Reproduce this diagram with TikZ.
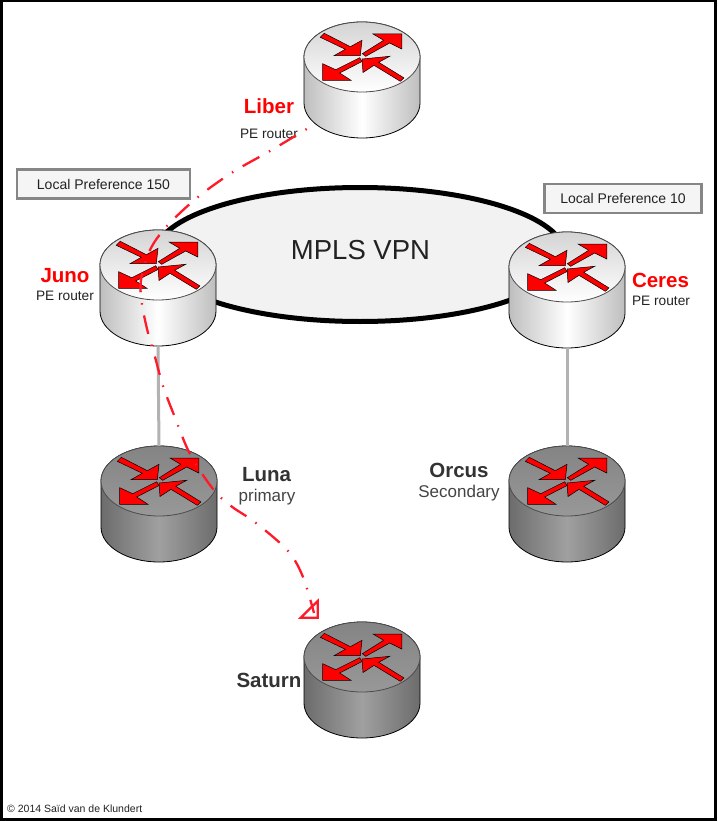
\documentclass[tikz,border=0pt]{standalone}
\usepackage{fontspec}
\setmainfont{Liberation Sans}
\definecolor{dashred}{HTML}{FF1A2A}
\definecolor{lblack}{HTML}{222222}
\definecolor{dgray}{HTML}{333333}
\definecolor{mgray}{HTML}{444444}
\definecolor{dsideedge}{HTML}{6C6C6C}
\definecolor{dsidemid}{HTML}{A0A0A0}
\definecolor{dtoptop}{HTML}{848484}
\definecolor{dtopbot}{HTML}{989898}
\definecolor{lsideedge}{HTML}{BEBEBE}
\definecolor{ltoptop}{HTML}{D4D4D4}
\tikzset{
  x=1pt,y=-1pt,
  routerbox/.style={rectangle,inner sep=0pt,minimum width=116pt,minimum height=116pt},
  prefbox/.style={rectangle,draw=gray!95,line width=2.5pt,fill=gray!8,inner sep=0pt,text=lblack,font=\fontsize{14}{16}\selectfont},
  namered/.style={text=red,inner sep=0pt,font=\bfseries\fontsize{20.5}{24}\selectfont},
  namedark/.style={text=dgray,inner sep=0pt,font=\bfseries\fontsize{20.5}{24}\selectfont},
  subblack/.style={text=lblack,inner sep=0pt,font=\fontsize{13.7}{16}\selectfont},
  subgray/.style={text=mgray,inner sep=0pt,font=\fontsize{17}{20}\selectfont},
  link/.style={draw=gray!60,line width=3pt},
  routerarrow/.style={fill=red,draw=black,line width=0.5pt,line join=miter},
  route/.style={draw=dashred,line width=2.3pt,dash pattern=on 1.5pt off 11pt on 19pt off 11pt},
  routetip/.style={draw=dashred,line width=2.3pt,line join=miter},
  lightside/.style={left color=lsideedge,right color=lsideedge,middle color=white},
  lighttop/.style={top color=ltoptop,bottom color=white},
  darkside/.style={left color=dsideedge,right color=dsideedge,middle color=dsidemid},
  darktop/.style={top color=dtoptop,bottom color=dtopbot},
}
\newcommand{\netrouter}[5]{% name, cx, cy, side, top
  \node[routerbox] (#1) at (#2,#3+23) {};
  \begin{scope}[shift={(#2,#3)}]
    \shade[#4,draw=black,line width=0.8pt] (-58,0) -- (-58,46) arc[start angle=180,end angle=0,x radius=58,y radius=35] -- (58,0) arc[start angle=0,end angle=-180,x radius=58,y radius=35] -- cycle;
    \shade[#5,draw=black!70,line width=0.8pt] (0,0) ellipse[x radius=58,y radius=35];
    \path[routerarrow] (-37.7,-23.7) -- (-11.7,-10.3) -- (0,-16.7) -- (-1.7,-1.3) -- (-28,-1.3) -- (-16.7,-7.7) -- (-41.7,-19.7) -- cycle;
    \path[routerarrow] (0.3,-3.3) -- (21.7,-16.7) -- (11,-23) -- (39.8,-23) -- (39.8,-8) -- (27.7,-14) -- (3.7,-0.7) -- cycle;
    \path[routerarrow] (0,2) -- (27.7,-0.7) -- (16.7,5.3) -- (41.9,20.9) -- (38.3,24.3) -- (12,8.3) -- (1,15.5) -- cycle;
    \path[routerarrow] (-2.3,0.7) -- (-26.3,12.7) -- (-39.3,6.7) -- (-39.3,23.3) -- (-11,23.3) -- (-22.3,16) -- (0,4.5) -- cycle;
  \end{scope}
}
\begin{document}
\begin{tikzpicture}
\useasboundingbox (0,0) rectangle (717,821);
\fill[white] (0,0) rectangle (717,821);
\draw[black,line width=3pt] (1.5,1) rectangle (715.3,819.5);

\draw[black,line width=5pt,fill=gray!10] (360,254.5) ellipse[x radius=205,y radius=67];
\node (mpls) at (360.5,250) [inner sep=0pt,text=lblack,font=\fontsize{27.5}{32}\selectfont] {MPLS VPN};

\netrouter{liber}{362}{57}{lightside}{lighttop}
\netrouter{juno}{158}{265}{lightside}{lighttop}
\netrouter{ceres}{567}{267}{lightside}{lighttop}
\netrouter{luna}{159}{481}{darkside}{darktop}
\netrouter{orcus}{567}{481}{darkside}{darktop}
\netrouter{saturn}{362}{657}{darkside}{darktop}

\draw[link] (juno.south) -- (luna.north);
\draw[link] (ceres.south) -- (orcus.north);

\node[prefbox,minimum width=173pt,minimum height=29pt] (pref150) at (103.5,184) {Local Preference 150};
\node[prefbox,minimum width=157pt,minimum height=29pt] (pref10) at (623,198.5) {Local Preference 10};

\node[namered] (liberl) at (269,106.5) {Liber};
\node[subblack] (libers) at (269,134) {PE router};
\node[namered] (junol) at (65,275.5) {Juno};
\node[subblack] (junos) at (65,296) {PE router};
\node[namered] (ceresl) at (660.5,280.5) {Ceres};
\node[subblack] (ceress) at (661,301) {PE router};
\node[namedark] (lunal) at (266.5,475) {Luna};
\node[subgray] (lunas) at (267,497.5) {primary};
\node[namedark] (orcusl) at (459,470.5) {Orcus};
\node[subgray] (orcuss) at (459,493.5) {Secondary};
\node[namedark] (saturnl) at (269,680.5) {Saturn};
\node[anchor=west,inner sep=0pt,text=lblack,font=\fontsize{10.5}{12}\selectfont] (copy) at (7,808.5) {© 2014 Saïd van de Klundert};

\coordinate (rstart) at (306.7,129);
\coordinate (rend) at (314,613);
\draw[route] plot[smooth,tension=0.55] coordinates {(rstart) (270,151) (233,172) (198,197) (167,226) (150,250) (141,280) (142,304) (148,333) (155,357) (163,386) (174,415) (190,454) (213,489) (231,506) (256,523) (288,551) (303,577) (rend)};
\draw[routetip] (317.7,601) -- (317.7,617.7) -- (300.7,617.7) -- cycle;
\end{tikzpicture}
\end{document}
